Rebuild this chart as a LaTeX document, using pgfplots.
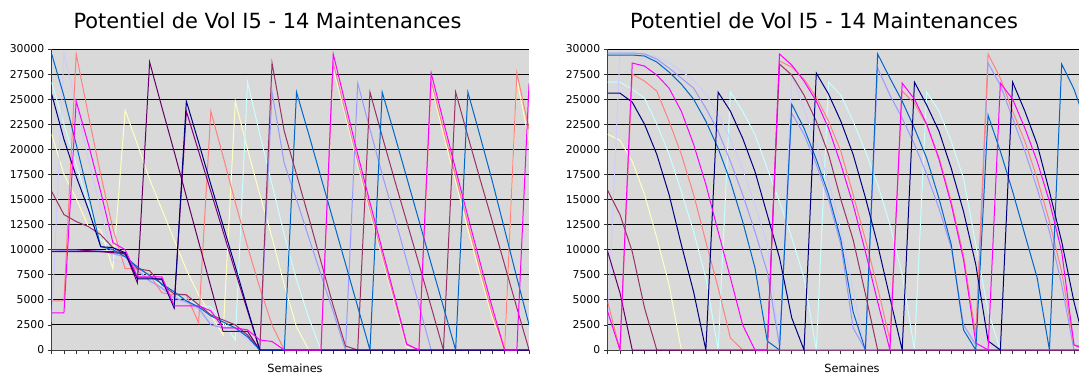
\documentclass[border=0pt]{standalone}
\usepackage{fontspec}
\setmainfont{DejaVu Sans}
\usepackage{pgfplots}
\usepackage{pgfplotstable}
\pgfplotsset{compat=1.18}
\definecolor{cB}{HTML}{0066CC}
\definecolor{cN}{HTML}{000080}
\definecolor{cDP}{HTML}{660066}
\definecolor{cM}{HTML}{993366}
\definecolor{cS}{HTML}{FF8080}
\definecolor{cMg}{HTML}{FF00FF}
\definecolor{cY}{HTML}{FFFFC0}
\definecolor{cC}{HTML}{C8FFFF}
\definecolor{cLL}{HTML}{CCCCFF}
\definecolor{cL}{HTML}{9999FF}
\definecolor{cP}{HTML}{800080}
\definecolor{bg}{HTML}{D9D9D9}

\pgfplotstableread{
i B N DP M S Mg Y C LL L P
0 29500 25500 9800 15800 4900 3700 21500 26700 2800 10000 10000
1 25300 21000 9800 13500 4900 3700 17500 22500 29500 9900 10000
2 20500 17300 9800 12800 29500 24800 15100 18500 24500 9900 10000
3 15500 14000 9800 12300 23400 20500 12300 14500 19000 9900 9900
4 10300 10300 9800 11500 17500 15800 12000 11000 14000 9900 9800
5 10000 10200 9800 10200 12100 10700 8100 10300 9000 9600 9700
6 9300 9700 9700 9500 8100 10000 23900 9500 8600 9300 9600
7 8300 7100 6700 8100 8100 7300 20500 8300 8300 7900 7200
8 7400 7100 28700 7900 7500 7300 17000 7300 6700 6900 7200
9 6600 7100 24200 6500 5700 7300 14000 6400 6100 6200 7000
10 5800 4200 19800 5600 5500 4400 11000 5600 5000 5200 4300
11 4900 24800 15300 5500 5500 4400 8000 5000 4700 4800 23800
12 4300 20700 10800 4500 2700 4400 5500 4500 4000 4200 19800
13 3400 16500 6300 3500 23800 3900 3500 4300 2700 2500 15800
14 2800 12400 1860 3000 19300 2200 1500 2900 2200 2200 11800
15 2200 8300 1860 2500 14700 2200 24800 1000 2000 2200 7800
16 1300 4100 1860 1500 10300 2000 20000 26700 1000 1500 3900
17 0 0 0 0 6200 1000 15500 21500 0 0 0
18 0 0 0 28600 2500 850 11200 16500 0 25700 0
19 0 0 0 21800 0 0 6500 11500 0 18600 0
20 25700 0 0 17500 0 0 2300 7000 0 15000 0
21 21500 0 0 13200 0 0 0 3200 0 11200 0
22 17200 0 0 8800 0 0 0 0 0 7500 0
23 12900 0 0 4400 28600 29500 28000 28300 0 3800 0
24 8600 0 0 400 23700 24500 23300 23500 0 0 0
25 4300 0 0 0 18800 19500 18400 18600 0 26600 0
26 0 0 0 25700 14000 14700 13700 13800 0 22000 0
27 25700 0 0 21300 9500 10000 9200 9300 0 17500 0
28 21500 0 0 17000 5000 5400 4700 4800 0 13300 0
29 17200 0 0 12800 500 600 300 400 0 8900 0
30 12900 0 0 8600 0 0 0 0 0 4500 0
31 8600 0 0 4300 26800 27600 26500 0 0 0 0
32 4300 0 0 0 22000 22800 21500 0 0 0 0
33 0 0 0 25700 17300 18000 16800 0 0 0 0
34 25700 0 0 21300 12600 13300 12000 0 0 0 0
35 21300 0 0 17000 8000 8700 7500 0 0 0 0
36 16800 0 0 12800 3600 4200 3200 0 0 0 0
37 12000 0 0 8500 0 0 0 0 0 0 0
38 7200 0 0 4200 27600 0 27000 0 0 0 0
39 2500 0 0 0 22000 26600 20800 0 0 0 0
}\leftdata

\pgfplotstableread{
i B N DP M S Mg Y C LL L
0 29400 25600 9800 15900 4800 3800 21500 26700 2500 29600
1 29400 25600 5700 13500 0 0 20900 26700 29600 29600
2 29400 24700 0 9800 27500 28600 18800 26000 29600 29600
3 29300 22500 0 4200 26800 28300 15500 25100 29500 29500
4 28700 19500 0 0 25800 27400 11200 22500 29200 29000
5 27700 15500 0 0 22800 26100 6500 19500 28600 28100
6 26500 10500 0 0 19500 23800 0 15800 27800 27100
7 25000 5800 0 0 15500 20500 0 11800 26900 26100
8 22800 0 0 0 10800 16500 0 7200 25500 24100
9 20100 25700 0 0 6200 11800 0 0 23500 21800
10 16800 23800 0 0 1200 7200 0 25700 21000 18800
11 12800 21100 0 0 0 2500 0 23800 18000 15500
12 8200 17800 0 0 0 0 0 21500 14500 11800
13 900 13500 0 0 0 0 0 18100 10500 7800
14 0 9200 0 28500 28800 29500 0 14800 500 400
15 24500 3200 0 27400 28200 28400 0 11200 27400 23600
16 22100 0 0 25400 27000 26800 0 7200 24000 21500
17 19000 27600 0 22800 25200 24800 0 0 20500 18500
18 15500 25500 0 19500 22800 22100 0 26700 16800 15000
19 11000 22800 0 15000 19800 18500 0 25400 12000 10500
20 3800 19500 0 11000 15500 14500 0 22800 6000 2200
21 0 15200 0 5600 11000 9800 0 19800 0 0
22 29500 10500 0 0 6200 4800 0 16500 0 28100
23 27100 5200 0 0 1000 0 0 12500 0 25400
24 24800 0 0 0 25800 26600 0 7500 0 23100
25 22100 26700 0 0 24600 25000 0 0 0 20500
26 19100 24400 0 0 22400 22500 0 25700 0 17500
27 15100 21800 0 0 19200 19000 0 23800 0 14100
28 10500 18100 0 0 14800 14500 0 20800 0 10200
29 2000 13800 0 0 9400 9000 0 17100 0 2500
30 0 8500 0 0 1500 700 0 10500 0 500
31 23400 900 0 0 29500 0 0 3850 0 28600
32 19800 0 0 0 27100 26600 0 0 0 26400
33 15800 26700 0 0 23800 25000 0 0 0 23100
34 11500 23800 0 0 20800 22100 0 0 0 19800
35 7200 20500 0 0 17100 18800 0 0 0 16100
36 0 15800 0 0 12800 14800 0 0 0 11800
37 28500 10800 0 0 7800 9800 0 0 0 6500
38 26000 4800 0 0 500 500 0 0 0 0
39 22500 0 0 0 300 0 0 0 0 0
}\rightdata

\pgfplotsset{
  panel/.style={
    anchor=south west, scale only axis, height=301pt,
    ymin=0, ymax=30000, ytick={0,2500,...,30000},
    xticklabels={},
    axis background/.style={fill=bg},
    ymajorgrids, grid style={black, line width=0.9pt},
    axis x line*=bottom, axis y line*=left,
    axis line style={black!75, line width=1pt},
    tick align=outside, major tick length=4pt,
    tick style={black!80, line width=0.7pt},
    scaled y ticks=false,
    yticklabel style={font=\fontsize{10.8}{12}\selectfont, /pgf/number format/1000 sep={}, /pgf/number format/assume math mode=true},
    every axis plot/.append style={line width=1pt, mark=none},
  }
}

\begin{document}
\begin{tikzpicture}
\path[use as bounding box] (0,0) rectangle (1079pt,375pt);

\begin{axis}[panel, at={(51.7pt,25pt)}, width=477.4pt, xmin=0, xmax=39, xtick={0,...,39}]
\addplot[cY] table[x=i,y=Y]{\leftdata};
\addplot[cC] table[x=i,y=C]{\leftdata};
\addplot[cLL] table[x=i,y=LL]{\leftdata};
\addplot[cL] table[x=i,y=L]{\leftdata};
\addplot[cS] table[x=i,y=S]{\leftdata};
\addplot[cM] table[x=i,y=M]{\leftdata};
\addplot[cP] table[x=i,y=P]{\leftdata};
\addplot[cDP] table[x=i,y=DP]{\leftdata};
\addplot[cB] table[x=i,y=B]{\leftdata};
\addplot[cN] table[x=i,y=N]{\leftdata};
\addplot[cMg] table[x=i,y=Mg]{\leftdata};
\end{axis}

\begin{axis}[panel, at={(607.7pt,25pt)}, width=471.3pt, xmin=0, xmax=38.41, xtick={0,...,38}]
\addplot[cY] table[x=i,y=Y]{\rightdata};
\addplot[cC] table[x=i,y=C]{\rightdata};
\addplot[cLL] table[x=i,y=LL]{\rightdata};
\addplot[cL] table[x=i,y=L]{\rightdata};
\addplot[cS] table[x=i,y=S]{\rightdata};
\addplot[cM] table[x=i,y=M]{\rightdata};
\addplot[cDP] table[x=i,y=DP]{\rightdata};
\addplot[cB] table[x=i,y=B]{\rightdata};
\addplot[cN] table[x=i,y=N]{\rightdata};
\addplot[cMg] table[x=i,y=Mg]{\rightdata};
\end{axis}

\node[font=\fontsize{20.9}{24}\selectfont] at (267.5pt,354pt) {Potentiel de Vol I5 - 14 Maintenances};
\node[font=\fontsize{20.9}{24}\selectfont] at (824pt,354pt) {Potentiel de Vol I5 - 14 Maintenances};
\node[font=\fontsize{11.3}{13}\selectfont] at (295pt,7pt) {Semaines};
\node[font=\fontsize{11.3}{13}\selectfont] at (852pt,7pt) {Semaines};
\end{tikzpicture}
\end{document}
